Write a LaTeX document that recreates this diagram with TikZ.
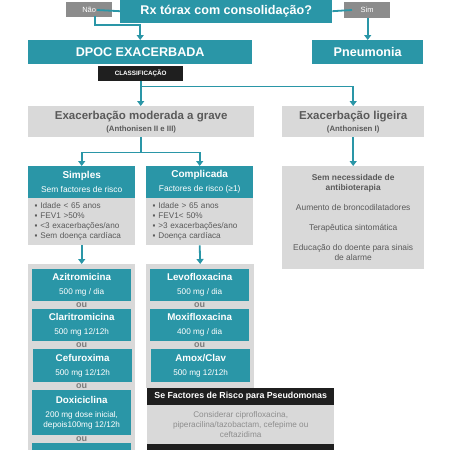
\documentclass[tikz,border=0pt]{standalone}
\usepackage{fontspec}
\setmainfont{Liberation Sans}
\usetikzlibrary{arrows.meta}
\definecolor{tealbox}{HTML}{2A96A7}
\definecolor{greybox}{HTML}{D9D9D9}
\definecolor{greytxt}{HTML}{5A5A5A}
\definecolor{lighttxt}{HTML}{8E8E8E}
\definecolor{labelbox}{HTML}{8C8C8C}
\newcommand\fsz[1]{\fontsize{#1}{#1}\selectfont}
\begin{document}
\begin{tikzpicture}[x=1pt,y=-1pt,
box/.style={anchor=north west,inner sep=0,align=center},
tbox/.style={box,fill=tealbox,text=white},
gbox/.style={box,fill=greybox,text=greytxt},
kbox/.style={box,fill=black!88,text=white},
lbox/.style={box,fill=labelbox,text=white,font=\fsz{7.5}},
listbox/.style={gbox,minimum width=107,minimum height=47,text width=94,align=left,font=\fontsize{8.2}{10}\selectfont},
ou/.style={text=greytxt!80,font=\fsz{9}\bfseries,inner sep=0},
conn/.style={draw=tealbox,line width=1.8pt},
arr/.style={conn,-{Triangle[length=5pt,width=7pt]}}]
\clip(0,0)rectangle(450,450);
\fill[white](0,0)rectangle(450,450);
\node[lbox,minimum width=46,minimum height=15](nao)at(66,2){Não};
\node[lbox,minimum width=46,minimum height=16](sim)at(344,2){Sim};
\node[tbox,minimum width=212,minimum height=24,font=\fsz{12.6}\bfseries](rx)at(120,-1){Rx tórax com consolidação?};
\node[tbox,minimum width=224,minimum height=24,font=\fsz{12.6}\bfseries](dpoc)at(28,40){DPOC EXACERBADA};
\node[tbox,minimum width=111,minimum height=24,font=\fsz{12.6}\bfseries](pneu)at(312,40){Pneumonia};
\node[kbox,minimum width=85,minimum height=15,font=\fsz{6.3}\bfseries](classif)at(98,66){CLASSIFICAÇÃO};
\draw[conn](rx.west)--(97,10);
\draw[arr](95,16)|-(120,25)-|(dpoc.north);
\draw[conn](rx.east)--(352,10);
\draw[arr](sim.south-|pneu.north)--(pneu.north);
\node[gbox,minimum width=226,minimum height=31](mod)at(28,106){{\fsz{11.5}\bfseries Exacerbação moderada a grave}\\[0pt]{\fsz{7.8}\bfseries (Anthonisen II e III)}};
\node[gbox,minimum width=142,minimum height=31](lig)at(282,106){{\fsz{11.5}\bfseries Exacerbação ligeira}\\[0pt]{\fsz{7.8}\bfseries (Anthonisen I)}};
\draw[conn](classif.south)--++(0,5)coordinate(split);
\draw[arr](split)--(split|-mod.north);
\draw[arr](split)-|(lig.north);
\node[tbox,minimum width=107,minimum height=32](simp)at(28,166){{\fsz{10}\bfseries Simples}\\[2pt]{\fsz{8.4}Sem factores de risco}};
\node[listbox](simpb)at(28,198){▪ Idade < 65 anos\\▪ FEV1 >50\%\\▪ <3 exacerbações/ano\\▪ Sem doença cardíaca};
\node[tbox,minimum width=107,minimum height=32](comp)at(146,166){{\fsz{10}\bfseries Complicada}\\[2pt]{\fsz{8.4}Factores de risco (≥1)}};
\node[listbox](compb)at(146,198){▪ Idade > 65 anos\\▪ FEV1< 50\%\\▪ >3 exacerbações/ano\\▪ Doença cardíaca};
\node[gbox,minimum width=142,minimum height=103,font=\fsz{8.4}](semab)at(282,166){{\bfseries Sem necessidade de}\\[1.6pt]{\bfseries antibioterapia}\\[11.6pt]Aumento de broncodilatadores\\[11.6pt]Terapêutica sintomática\\[11.6pt]Educação do doente para sinais\\[1.6pt]de alarme};
\draw[conn](mod.south)--++(0,15)coordinate(split2);
\draw[arr](split2)-|(simp.north);
\draw[arr](split2)-|(comp.north);
\draw[arr](lig.south)--(semab.north);
\node[gbox,minimum width=107,minimum height=200](left)at(28,264){};
\node[gbox,minimum width=108,minimum height=124](right)at(146,264){};
\draw[arr](simpb.south)--(left.north);
\draw[arr](compb.south)--(right.north);
\node[tbox,minimum width=99,minimum height=32](azi)at(32,269){{\fsz{9.8}\bfseries Azitromicina}\\[2pt]{\fsz{8.2}500 mg / dia}};
\node[ou](ou1)at(81.5,305){ou};
\node[tbox,minimum width=99,minimum height=32](clar)at(32,309){{\fsz{9.8}\bfseries Claritromicina}\\[2pt]{\fsz{8.2}500 mg 12/12h}};
\node[ou](ou2)at(81.5,345){ou};
\node[tbox,minimum width=99,minimum height=33](cef)at(33,349){{\fsz{9.8}\bfseries Cefuroxima}\\[2pt]{\fsz{8.2}500 mg 12/12h}};
\node[ou](ou3)at(81.5,386){ou};
\node[tbox,minimum width=99,minimum height=45](doxi)at(32,390){{\fsz{9.8}\bfseries Doxiciclina}\\[2pt]{\fsz{8.2}200 mg dose inicial,}\\[-2pt]{\fsz{8.2}depois100mg 12/12h}};
\node[ou](ou4)at(81.5,439){ou};
\node[tbox,minimum width=99,minimum height=30](fifth)at(32,443){};
\node[tbox,minimum width=99,minimum height=32](levo)at(150,269){{\fsz{9.8}\bfseries Levofloxacina}\\[2pt]{\fsz{8.2}500 mg / dia}};
\node[ou](ou5)at(199.5,305){ou};
\node[tbox,minimum width=99,minimum height=32](moxi)at(150,309){{\fsz{9.8}\bfseries Moxifloxacina}\\[2pt]{\fsz{8.2}400 mg / dia}};
\node[ou](ou6)at(199.5,345){ou};
\node[tbox,minimum width=99,minimum height=33](amox)at(151,349){{\fsz{9.8}\bfseries Amox/Clav}\\[2pt]{\fsz{8.2}500 mg 12/12h}};
\node[kbox,minimum width=187,minimum height=17,font=\fsz{8.8}\bfseries](pseudo)at(147,388){Se Factores de Risco para Pseudomonas};
\node[gbox,minimum width=187,minimum height=39,text=lighttxt,font=\fsz{8.2}](consid)at(147,405){Considerar ciprofloxacina,\\[1.8pt]piperacilina/tazobactam, cefepime ou\\[1.8pt]ceftazidima};
\node[kbox,minimum width=187,minimum height=20](lastbar)at(147,444){};
\end{tikzpicture}
\end{document}
